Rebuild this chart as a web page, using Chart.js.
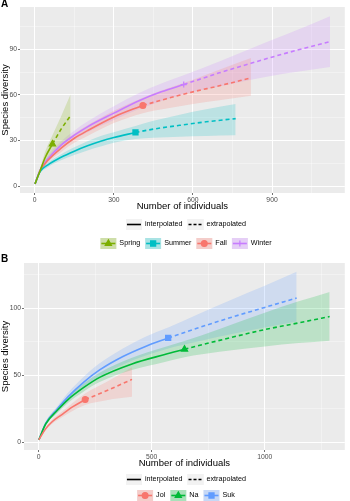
<!DOCTYPE html>
<html>
<head>
<meta charset="utf-8">
<script src="https://cdn.jsdelivr.net/npm/chart.js@4.4.1/dist/chart.umd.min.js"></script>
<style>
  html, body { margin: 0; padding: 0; background: #fff; }
  #wrap { position: relative; width: 350px; height: 501px; overflow: hidden; }
  canvas { position: absolute; left: 0; }
  #chartA { top: 0; }
  #chartB { top: 252px; }
  .tag { position: absolute; left: 1px; font: bold 10px "Liberation Sans", Arial, sans-serif; line-height: 10px; color: #000; }
</style>
</head>
<body>
<div id="wrap">
  <canvas id="chartA" width="350" height="252"></canvas>
  <canvas id="chartB" width="350" height="249"></canvas>
  <div class="tag" style="top:-1px">A</div>
  <div class="tag" style="top:254px">B</div>
</div>
<script>
// ---- Panel A: seasons (x = number of individuals, y = species diversity) ----
const springX  = [1, 20, 40, 67, 100, 136];
const springY  = [1.5, 10, 19, 27.7, 37.5, 46.3];
const springLo = [1.5, 8.5, 15, 22, 27, 31];
const springHi = [1.5, 11.5, 23, 33.5, 46, 60.5];
const springObs = 3;

const summerX  = [1, 20, 50, 100, 150, 200, 250, 300, 382, 450, 550, 650, 762];
const summerY  = [1.5, 9.5, 14, 19, 23, 26.5, 29.5, 32, 35.3, 37.5, 40, 42.3, 44.4];
const summerLo = [1.5, 8.5, 12.5, 17, 20.5, 23.5, 26, 28.5, 31, 31.8, 32.5, 33, 33.5];
const summerHi = [1.5, 10.5, 15.5, 21, 25.5, 29.5, 33, 35.5, 39.5, 43, 47, 50.5, 54];
const summerObs = 8;

const fallX  = [1, 20, 50, 100, 150, 200, 300, 410, 500, 600, 700, 820];
const fallY  = [1.5, 10, 17, 25, 31.5, 36.5, 45.5, 53.1, 57.5, 62, 66, 71.2];
const fallLo = [1.5, 9, 15.5, 22.5, 28.5, 33, 41.5, 48, 51, 54, 56.5, 59.5];
const fallHi = [1.5, 11, 18.5, 27.5, 34.5, 40, 49.5, 58.2, 64, 70, 76.5, 84.2];
const fallObs = 7;

const winterX  = [1, 20, 50, 100, 150, 200, 300, 400, 480, 565, 700, 820, 950, 1120];
const winterY  = [1.5, 10.5, 18, 27, 33.5, 39, 48, 56.5, 62, 66.8, 74.5, 80.8, 87.3, 95];
const winterLo = [1.5, 9.5, 16, 24.5, 30.5, 35.5, 43.5, 51, 56, 60.5, 65.5, 70, 74, 78.4];
const winterHi = [1.5, 11.5, 20, 29.5, 36.5, 42.5, 52.5, 61.5, 67.5, 73, 82, 90.5, 99.5, 111.8];
const winterObs = 9;

const aXTicks = [0, 300, 600, 900];
const aXMinor = [150, 450, 750, 1050];
const aYTicks = [0, 30, 60, 90];
const aYMinor = [15, 45, 75, 105];

// ---- Panel B: sites ----
const jolX  = [1, 30, 60, 100, 150, 206, 300, 413];
const jolY  = [2, 10, 15.5, 20.5, 26.5, 32, 38.5, 47];
const jolLo = [2, 9, 14, 18.5, 23.5, 28, 31.5, 34];
const jolHi = [2, 11, 17, 22.5, 29.5, 36.5, 45, 56];
const jolObs = 5;

const naX  = [1, 32, 83, 130, 200, 270, 413, 558, 645, 800, 1000, 1150, 1287];
const naY  = [2, 14, 24, 32, 41, 48.5, 58.5, 65.5, 69.4, 76, 84, 89, 93.7];
const naLo = [2, 13, 22, 29.5, 38, 45, 54, 60, 63.5, 67.5, 71.5, 74, 75.8];
const naHi = [2, 15, 26, 34.5, 44, 52, 63, 71, 75.5, 84.5, 96.5, 105, 112];
const naObs = 8;

const sukX  = [1, 32, 83, 130, 200, 270, 373, 470, 573, 700, 850, 1000, 1141];
const sukY  = [2, 14.5, 25, 34, 45, 54, 64, 71.3, 77.8, 85, 93, 100.5, 107.5];
const sukLo = [2, 13.5, 23, 31, 41, 49, 58, 64.5, 70, 75, 80.5, 85.5, 90];
const sukHi = [2, 15.5, 27, 37, 49, 59, 70, 78.5, 85.5, 95, 106, 116.5, 127];
const sukObs = 8;

const bXTicks = [0, 500, 1000];
const bXMinor = [250, 750, 1250];
const bYTicks = [0, 50, 100];
const bYMinor = [25, 75, 125];

const FONT = '"Liberation Sans", Arial, Helvetica, sans-serif';

function hexToRgba(hex, a) {
    const n = parseInt(hex.slice(1), 16);
    return `rgba(${(n >> 16) & 255}, ${(n >> 8) & 255}, ${n & 255}, ${a})`;
}

function pointSize(shape) {
    if (shape === 'rect') return 3.6;
    if (shape === 'triangle') return 3.6;
    if (shape === 'cross') return 3;
    return 2.9;
}

function seriesDatasets(s) {
    const pts = s.x.map((x, i) => ({x: x, y: s.y[i]}));
    return [
        {
            label: s.name + ' lower',
            data: s.x.map((x, i) => ({x: x, y: s.lo[i]})),
            borderWidth: 0, pointRadius: 0, fill: false, order: 3
        },
        {
            label: s.name + ' upper',
            data: s.x.map((x, i) => ({x: x, y: s.hi[i]})),
            borderWidth: 0, pointRadius: 0, order: 3,
            backgroundColor: hexToRgba(s.color, 0.2),
            fill: '-1'
        },
        {
            label: s.name,
            data: pts.slice(0, s.obs + 1),
            borderColor: s.color, borderWidth: 1.6, pointRadius: 0, fill: false, order: 2
        },
        {
            label: s.name + ' extrapolated',
            data: pts.slice(s.obs),
            borderColor: s.color, borderWidth: 1.6, borderDash: [4, 3], pointRadius: 0, fill: false, order: 2
        },
        {
            label: s.name + ' observed',
            data: [pts[s.obs]],
            showLine: false, order: 1,
            pointStyle: s.shape, pointRadius: pointSize(s.shape),
            pointBackgroundColor: s.color, pointBorderColor: s.color, pointBorderWidth: 1.2
        }
    ];
}

// grey panel background like ggplot
const panelBg = {
    id: 'panelBg',
    beforeDraw(chart) {
        const {ctx, chartArea: a} = chart;
        ctx.save();
        ctx.fillStyle = '#EBEBEB';
        ctx.fillRect(a.left, a.top, a.right - a.left, a.bottom - a.top);
        ctx.restore();
    }
};

// two-row ggplot style legend under the x axis title
const ggLegend = {
    id: 'ggLegend',
    afterDraw(chart, args, opts) {
        const ctx = chart.ctx;
        const keyW = 16, keyH = 11, textGap = 3, itemGap = 5;
        ctx.save();
        ctx.font = '7.2px ' + FONT;
        ctx.textBaseline = 'middle';
        opts.rows.forEach(row => {
            const widths = row.items.map(it => ctx.measureText(it.label).width);
            const total = widths.reduce((t, w) => t + keyW + textGap + w, 0) + itemGap * (row.items.length - 1);
            let x = opts.centerX - total / 2;
            row.items.forEach((it, i) => {
                const top = row.y - keyH / 2;
                ctx.fillStyle = '#F2F2F2';
                ctx.fillRect(x, top, keyW, keyH);
                if (it.fill) {
                    ctx.fillStyle = it.fill;
                    ctx.fillRect(x, top, keyW, keyH);
                }
                ctx.strokeStyle = it.color;
                ctx.lineWidth = 1.6;
                ctx.setLineDash(it.dash || []);
                ctx.beginPath();
                ctx.moveTo(x + 1, row.y);
                ctx.lineTo(x + keyW - 1, row.y);
                ctx.stroke();
                ctx.setLineDash([]);
                if (it.shape) {
                    ctx.fillStyle = it.color;
                    ctx.lineWidth = 1.2;
                    Chart.helpers.drawPoint(ctx, {pointStyle: it.shape, radius: pointSize(it.shape), rotation: 0, borderWidth: 1.2}, x + keyW / 2, row.y);
                }
                ctx.fillStyle = '#000';
                ctx.textAlign = 'left';
                ctx.fillText(it.label, x + keyW + textGap, row.y);
                x += keyW + textGap + widths[i] + itemGap;
            });
        });
        ctx.restore();
    }
};

function axisOptions(min, max, majors, minors, fitSize, horizontal, title, titlePad) {
    const all = majors.concat(minors).sort((a, b) => a - b);
    return {
        type: 'linear',
        min: min,
        max: max,
        afterBuildTicks: axis => { axis.ticks = all.map(v => ({value: v})); },
        afterFit: scale => {
            if (horizontal) scale.height = fitSize; else scale.width = fitSize;
        },
        border: {display: false},
        grid: {
            drawTicks: true,
            tickLength: 2,
            color: c => (c.tick && majors.includes(c.tick.value)) ? '#FFFFFF' : 'rgba(255,255,255,0.75)',
            lineWidth: c => (c.tick && majors.includes(c.tick.value)) ? 1 : 0.5,
            tickColor: c => (c.tick && majors.includes(c.tick.value)) ? '#4D4D4D' : 'rgba(0,0,0,0)',
            tickWidth: 0.8
        },
        ticks: {
            autoSkip: false,
            maxRotation: 0,
            padding: 1,
            color: '#4D4D4D',
            font: {family: FONT, size: 6.8},
            callback: v => majors.includes(v) ? String(v) : ''
        },
        title: {
            display: true,
            text: title,
            color: '#000',
            padding: titlePad,
            font: {family: FONT, size: 9.5}
        }
    };
}

function makeChart(canvasId, series, cfg) {
    const datasets = [];
    series.forEach(s => datasets.push(...seriesDatasets(s)));
    const lineTypeRow = [
        {label: 'interpolated', color: '#000'},
        {label: 'extrapolated', color: '#000', dash: [3, 2]}
    ];
    const groupRow = series.map(s => ({
        label: s.name, color: s.color, shape: s.shape, fill: hexToRgba(s.color, 0.3)
    }));
    return new Chart(document.getElementById(canvasId), {
        type: 'line',
        data: {datasets: datasets},
        options: {
            responsive: false,
            animation: false,
            events: [],
            layout: {padding: cfg.padding},
            elements: {line: {cubicInterpolationMode: 'monotone'}},
            scales: {
                x: axisOptions(cfg.xMin, cfg.xMax, cfg.xTicks, cfg.xMinor, cfg.xFit, true,
                               'Number of individuals', {top: 0, bottom: 1}),
                y: axisOptions(cfg.yMin, cfg.yMax, cfg.yTicks, cfg.yMinor, cfg.yFit, false,
                               'Species diversity', {top: 0, bottom: 0})
            },
            plugins: {
                legend: {display: false},
                tooltip: {enabled: false},
                ggLegend: {
                    centerX: 186,
                    rows: [
                        {y: cfg.legendY[0], items: lineTypeRow},
                        {y: cfg.legendY[1], items: groupRow}
                    ]
                }
            }
        },
        plugins: [panelBg, ggLegend]
    });
}

makeChart('chartA', [
    {name: 'Spring', color: '#7CAE00', shape: 'triangle', x: springX, y: springY, lo: springLo, hi: springHi, obs: springObs},
    {name: 'Summer', color: '#00BFC4', shape: 'rect', x: summerX, y: summerY, lo: summerLo, hi: summerHi, obs: summerObs},
    {name: 'Fall', color: '#F8766D', shape: 'circle', x: fallX, y: fallY, lo: fallLo, hi: fallHi, obs: fallObs},
    {name: 'Winter', color: '#C77CFF', shape: 'cross', x: winterX, y: winterY, lo: winterLo, hi: winterHi, obs: winterObs}
], {
    padding: {top: 7, right: 1, bottom: 39, left: 0},
    xMin: -56, xMax: 1176, xTicks: aXTicks, xMinor: aXMinor, xFit: 20,
    yMin: -4.5, yMax: 117.8, yTicks: aYTicks, yMinor: aYMinor, yFit: 20,
    legendY: [224.5, 243.5]
});

makeChart('chartB', [
    {name: 'Jol', color: '#F8766D', shape: 'circle', x: jolX, y: jolY, lo: jolLo, hi: jolHi, obs: jolObs},
    {name: 'Na', color: '#00BA38', shape: 'triangle', x: naX, y: naY, lo: naLo, hi: naHi, obs: naObs},
    {name: 'Suk', color: '#619CFF', shape: 'rect', x: sukX, y: sukY, lo: sukLo, hi: sukHi, obs: sukObs}
], {
    padding: {top: 11, right: 1, bottom: 31, left: 0},
    xMin: -64.5, xMax: 1354, xTicks: bXTicks, xMinor: bXMinor, xFit: 20,
    yMin: -5.5, yMax: 133.5, yTicks: bYTicks, yMinor: bYMinor, yFit: 24,
    legendY: [227.5, 243.5]
});
</script>
</body>
</html>
